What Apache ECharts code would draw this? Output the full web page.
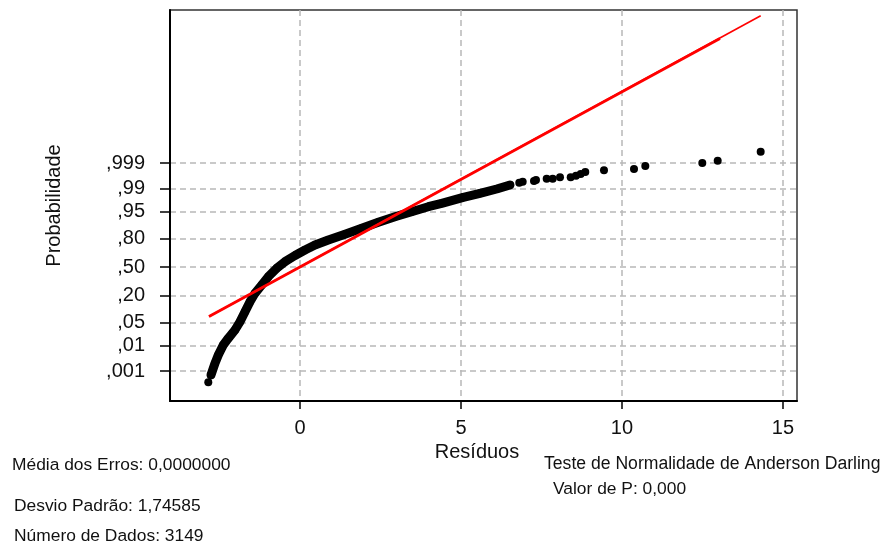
<!DOCTYPE html>
<html>
<head>
<meta charset="utf-8">
<script src="https://cdn.jsdelivr.net/npm/echarts@6/dist/echarts.min.js"></script>
<style>
html,body{margin:0;padding:0;background:#fff;}
#chart{width:886px;height:550px;}
</style>
</head>
<body>
<div id="chart"></div>
<script>
// ---- data ----
// residual values (x) and their normal scores (z, probit of the plotting position)
const residuals = [-2.848, -2.764, -2.640, -2.537, -2.382, -2.227, -2.019, -1.863, -1.708, -1.553,
  -1.398, -1.189, -0.984, -0.724, -0.466, -0.155, 0.155, 0.466, 0.879, 1.398,
  1.916, 2.432, 2.950, 3.469, 3.984, 4.401, 5.071, 5.590, 6.109, 6.522,
  6.810, 6.916, 7.267, 7.329, 7.661, 7.848, 8.075, 8.407, 8.571, 8.717,
  8.860, 9.441, 10.373, 10.724, 12.494, 12.972, 14.307];
const normalScores = [-3.426, -3.210, -2.862, -2.615, -2.318, -2.119, -1.872, -1.626, -1.328, -1.031,
  -0.782, -0.535, -0.288, -0.039, 0.158, 0.342, 0.505, 0.654, 0.802, 0.972,
  1.150, 1.328, 1.495, 1.643, 1.792, 1.893, 2.071, 2.190, 2.318, 2.437,
  2.505, 2.535, 2.556, 2.585, 2.624, 2.624, 2.666, 2.666, 2.713, 2.764,
  2.823, 2.874, 2.912, 3.002, 3.091, 3.159, 3.426];
// dense band of the 3149 points (indices denseStart..denseEnd-1)
const denseStart = 1, denseEnd = 30;
// fitted normal reference line
const fitX = [-2.826, 13.043, 14.307];
const fitZ = [-1.471, 6.790, 7.468];
// axis ticks
const xTicks = [0, 5, 10, 15];
const probTicks = [0.001, 0.01, 0.05, 0.20, 0.50, 0.80, 0.95, 0.99, 0.999];
const probLabels = [',001', ',01', ',05', ',20', ',50', ',80', ',95', ',99', ',999'];
// texts
const statsLeft = ['Média dos Erros: 0,0000000', 'Desvio Padrão: 1,74585', 'Número de Dados: 3149'];
const statsRight = ['Teste de Normalidade de Anderson Darling', 'Valor de P: 0,000'];

// probit scale (inverse standard normal CDF, Acklam)
function probit(p) {
  const a = [-3.969683028665376e+01, 2.209460984245205e+02, -2.759285104469687e+02, 1.383577518672690e+02, -3.066479806614716e+01, 2.506628277459239e+00];
  const b = [-5.447609879822406e+01, 1.615858368580409e+02, -1.556989798598866e+02, 6.680131188771972e+01, -1.328068155288572e+01];
  const c = [-7.784894002430293e-03, -3.223964580411365e-01, -2.400758277161838e+00, -2.549732539343734e+00, 4.374664141464968e+00, 2.938163982698783e+00];
  const d = [7.784695709041462e-03, 3.224671290700398e-01, 2.445134137142996e+00, 3.754408661907416e+00];
  const pl = 0.02425;
  let q, r;
  if (p < pl) {
    q = Math.sqrt(-2 * Math.log(p));
    return (((((c[0]*q+c[1])*q+c[2])*q+c[3])*q+c[4])*q+c[5]) / ((((d[0]*q+d[1])*q+d[2])*q+d[3])*q+1);
  } else if (p <= 1 - pl) {
    q = p - 0.5; r = q*q;
    return (((((a[0]*r+a[1])*r+a[2])*r+a[3])*r+a[4])*r+a[5])*q / (((((b[0]*r+b[1])*r+b[2])*r+b[3])*r+b[4])*r+1);
  } else {
    q = Math.sqrt(-2 * Math.log(1 - p));
    return -(((((c[0]*q+c[1])*q+c[2])*q+c[3])*q+c[4])*q+c[5]) / ((((d[0]*q+d[1])*q+d[2])*q+d[3])*q+1);
  }
}
const yTickValues = probTicks.map(probit);

const points = residuals.map((x, i) => [x, normalScores[i]]);
const densePoints = points.slice(denseStart, denseEnd);
const fitFull = [[fitX[0], fitZ[0]], [fitX[2], fitZ[2]]];
const fitThick = [[fitX[0], fitZ[0]], [fitX[1], fitZ[1]]];

const FONT = '"Liberation Sans", Arial, sans-serif';
const chart = echarts.init(document.getElementById('chart'), null, {renderer: 'canvas'});
const gridLine = {show: true, lineStyle: {color: '#b8b8b8', width: 1.5, type: [6, 4]}};

chart.setOption({
  animation: false,
  backgroundColor: '#fff',
  grid: {left: 170, top: 10, width: 627, height: 391, show: true, borderColor: '#333', borderWidth: 1.5, backgroundColor: 'transparent'},
  xAxis: {
    type: 'value', min: -4.037, max: 15.435,
    name: 'Resíduos', nameLocation: 'middle', nameGap: 37,
    nameTextStyle: {fontFamily: FONT, fontSize: 20, color: '#111', padding: [0, 13, 0, 0]},
    axisLine: {show: true, onZero: false, lineStyle: {color: '#000', width: 2}},
    axisTick: {show: true, customValues: xTicks, length: 8, lineStyle: {color: '#000', width: 1.5}},
    axisLabel: {show: true, customValues: xTicks, margin: 17, fontFamily: FONT, fontSize: 20, color: '#111'},
    splitLine: gridLine
  },
  yAxis: {
    type: 'value', min: -3.982, max: 7.637,
    name: 'Probabilidade', nameLocation: 'middle', nameGap: 106, nameRotate: 90,
    nameTextStyle: {fontFamily: FONT, fontSize: 20, color: '#111'},
    axisLine: {show: true, onZero: false, lineStyle: {color: '#000', width: 2}},
    axisTick: {show: true, customValues: yTickValues, length: 10, lineStyle: {color: '#000', width: 1.5}},
    axisLabel: {
      show: true, customValues: yTickValues, margin: 25, fontFamily: FONT, fontSize: 20, color: '#111',
      formatter: function (v) {
        let best = 0;
        yTickValues.forEach((t, i) => { if (Math.abs(t - v) < Math.abs(yTickValues[best] - v)) best = i; });
        return probLabels[best];
      }
    },
    splitLine: gridLine
  },
  series: [
    {type: 'line', data: densePoints, showSymbol: false, symbol: 'none', z: 2,
     lineStyle: {color: '#000', width: 9, cap: 'round', join: 'round'}, silent: true},
    {type: 'scatter', data: points, symbol: 'circle', symbolSize: 8, z: 3,
     itemStyle: {color: '#000', opacity: 1}, silent: true},
    {type: 'line', data: fitFull, symbol: 'none', z: 4,
     lineStyle: {color: '#ff0000', width: 1.6}, silent: true},
    {type: 'line', data: fitThick, symbol: 'none', z: 5,
     lineStyle: {color: '#ff0000', width: 2.8}, silent: true}
  ],
  graphic: [
    {type: 'text', left: 12, top: 457, style: {text: statsLeft[0], font: '17.4px ' + FONT, fill: '#111'}},
    {type: 'text', left: 14, top: 498, style: {text: statsLeft[1], font: '17.4px ' + FONT, fill: '#111'}},
    {type: 'text', left: 14, top: 528, style: {text: statsLeft[2], font: '17.4px ' + FONT, fill: '#111'}},
    {type: 'text', left: 544, top: 455, style: {text: statsRight[0], font: '17.6px ' + FONT, fill: '#111'}},
    {type: 'text', left: 553, top: 481, style: {text: statsRight[1], font: '17.4px ' + FONT, fill: '#111'}}
  ]
});
</script>
</body>
</html>
